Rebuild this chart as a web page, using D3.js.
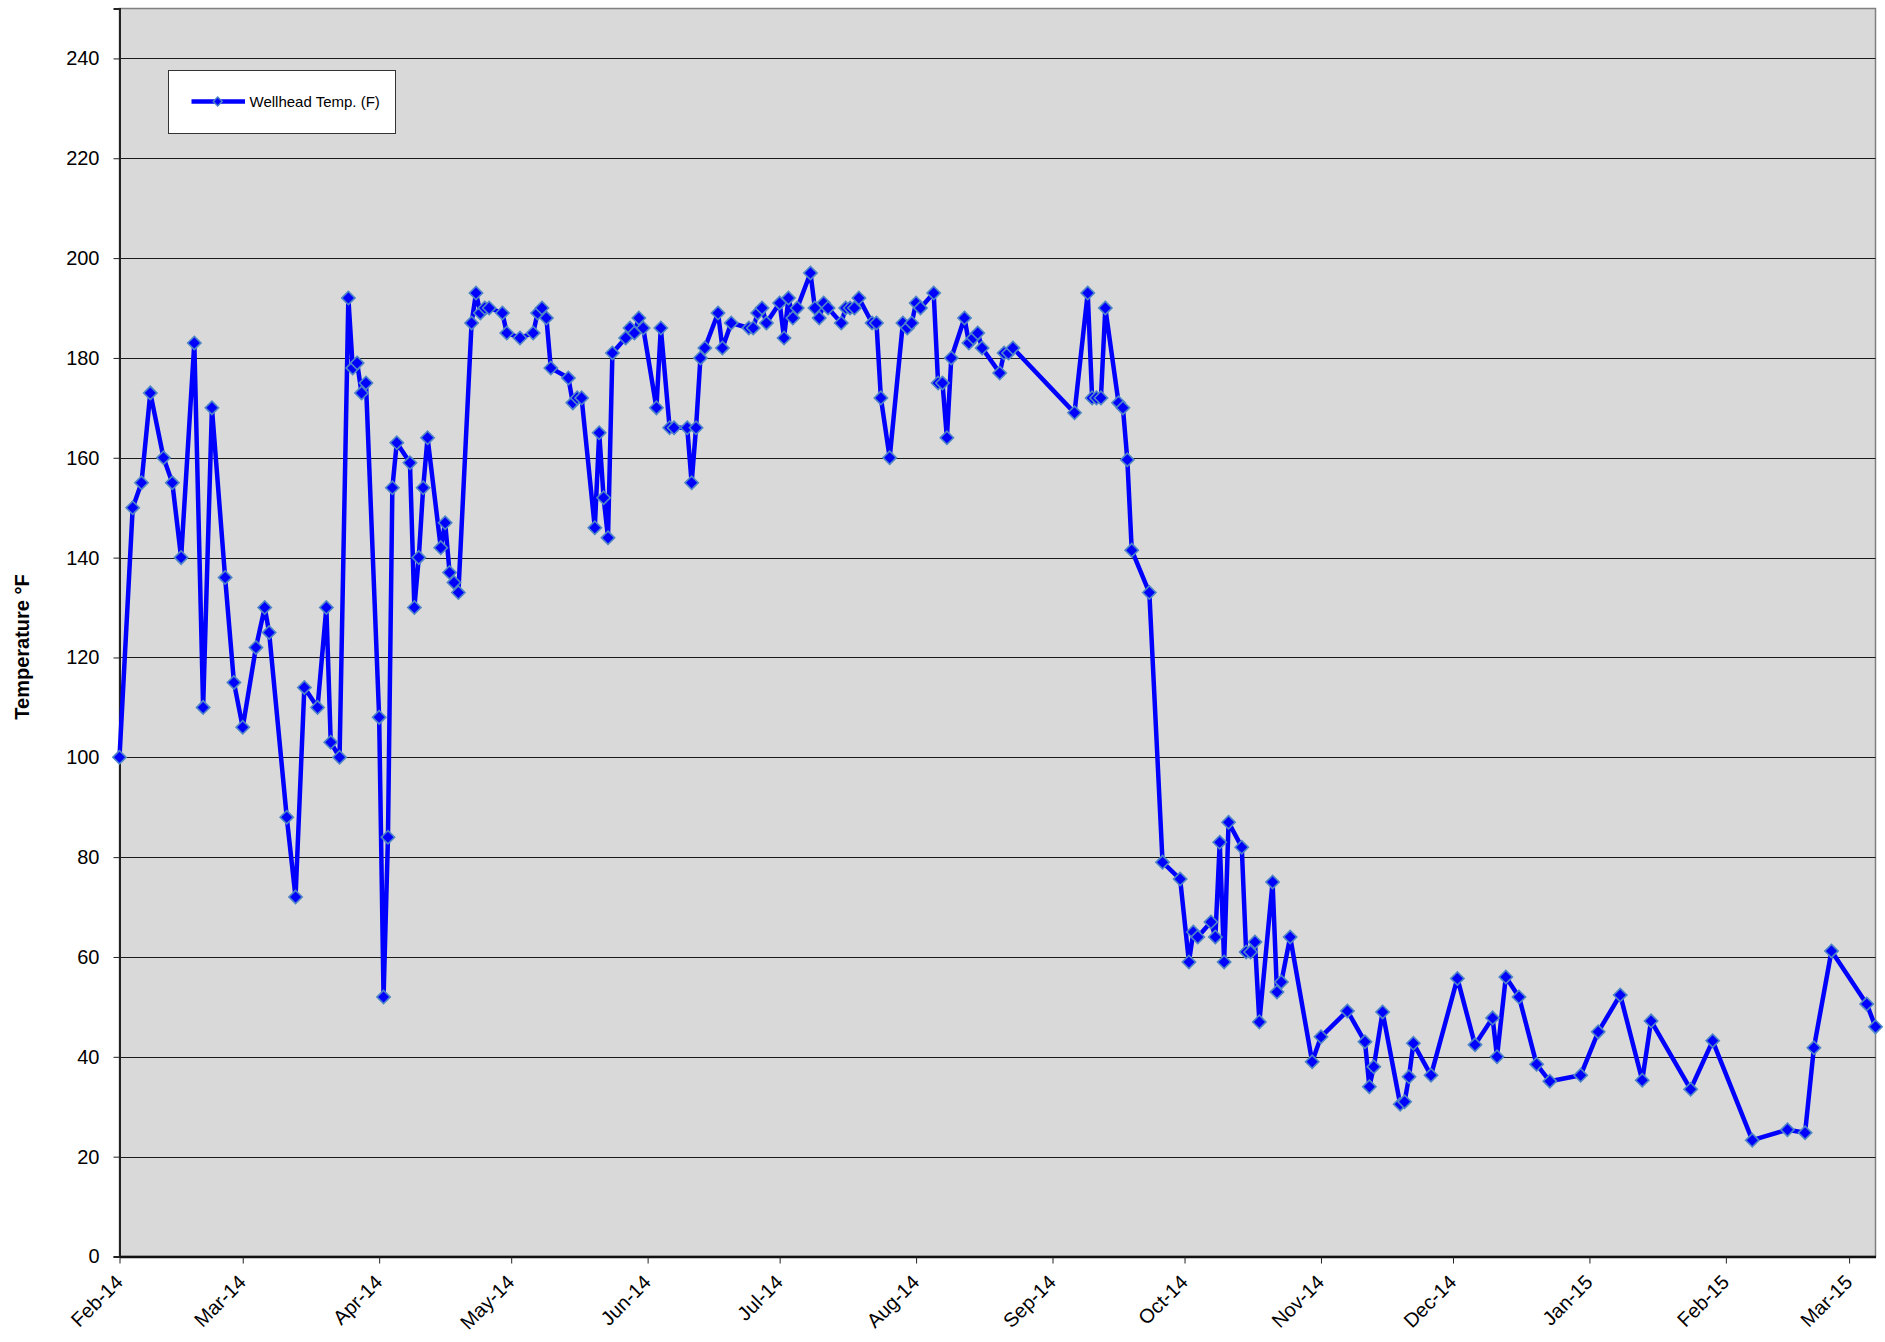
<!DOCTYPE html>
<html><head><meta charset="utf-8">
<script src="https://cdn.jsdelivr.net/npm/d3@7"></script>
<style>html,body{margin:0;padding:0;background:#fff;} svg{display:block;font-family:"Liberation Sans",Arial,sans-serif;}</style>
</head><body><svg id="chart" width="1885" height="1342"></svg>
<script>
const dates = [
"2014-02-01","2014-02-04","2014-02-06","2014-02-08","2014-02-11","2014-02-13","2014-02-15","2014-02-18","2014-02-20","2014-02-22","2014-02-25","2014-02-27",
"2014-03-01","2014-03-04","2014-03-06","2014-03-07","2014-03-11","2014-03-13","2014-03-15","2014-03-18","2014-03-20","2014-03-21","2014-03-23","2014-03-25","2014-03-26","2014-03-27","2014-03-28","2014-03-29",
"2014-04-01","2014-04-02","2014-04-03","2014-04-04","2014-04-05","2014-04-08","2014-04-09","2014-04-10","2014-04-11","2014-04-12","2014-04-15","2014-04-16","2014-04-17","2014-04-18","2014-04-19","2014-04-22","2014-04-23","2014-04-24","2014-04-25","2014-04-26","2014-04-29","2014-04-30",
"2014-05-03","2014-05-06","2014-05-07","2014-05-08","2014-05-09","2014-05-10","2014-05-14","2014-05-15","2014-05-16","2014-05-17","2014-05-20","2014-05-21","2014-05-22","2014-05-23","2014-05-24","2014-05-27","2014-05-28","2014-05-29","2014-05-30","2014-05-31",
"2014-06-03","2014-06-04","2014-06-06","2014-06-07","2014-06-10","2014-06-11","2014-06-12","2014-06-13","2014-06-14","2014-06-17","2014-06-18","2014-06-20","2014-06-24","2014-06-25","2014-06-26","2014-06-27","2014-06-28",
"2014-07-01","2014-07-02","2014-07-03","2014-07-04","2014-07-05","2014-07-08","2014-07-09","2014-07-10","2014-07-11","2014-07-12","2014-07-15","2014-07-16","2014-07-17","2014-07-18","2014-07-19","2014-07-22","2014-07-23","2014-07-24","2014-07-26","2014-07-29","2014-07-30","2014-07-31",
"2014-08-01","2014-08-02","2014-08-05","2014-08-06","2014-08-07","2014-08-08","2014-08-09","2014-08-12","2014-08-13","2014-08-14","2014-08-15","2014-08-16","2014-08-20","2014-08-21","2014-08-22","2014-08-23",
"2014-09-06","2014-09-09","2014-09-10","2014-09-11","2014-09-12","2014-09-13","2014-09-16","2014-09-17","2014-09-18","2014-09-19","2014-09-23","2014-09-26","2014-09-30",
"2014-10-02","2014-10-03","2014-10-04","2014-10-07","2014-10-08","2014-10-09","2014-10-10","2014-10-11","2014-10-14","2014-10-15","2014-10-16","2014-10-17","2014-10-18","2014-10-21","2014-10-22","2014-10-23","2014-10-25","2014-10-30",
"2014-11-01","2014-11-07","2014-11-11","2014-11-12","2014-11-13","2014-11-15","2014-11-19","2014-11-20","2014-11-21","2014-11-22","2014-11-26",
"2014-12-02","2014-12-06","2014-12-10","2014-12-11","2014-12-13","2014-12-16","2014-12-20","2014-12-23","2014-12-30",
"2015-01-03","2015-01-08","2015-01-13","2015-01-15","2015-01-24","2015-01-29",
"2015-02-07","2015-02-15","2015-02-19","2015-02-21","2015-02-25",
"2015-03-05","2015-03-07"
];
const temps = [
100,150,155,173,160,155,140,183,110,170,136,115,
106,122,130,125,88,72,114,110,130,103,100,192,178,179,173,175,
108,52,84,154,163,159,130,140,154,164,142,147,137,135,133,187,193,189,190,190,189,185,
184,185,189,190,188,178,176,171,172,172,146,165,152,144,181,184,186,185,188,186,
170,186,166,166,166,155,166,180,182,189,182,187,186,186,189,190,187,
191,184,192,188,190,197,190,188,191,190,187,190,190,190,192,187,187,172,160,187,186,187,
191,190,193,175,175,164,180,188,183,184,185,182,177,181,181,182,
169,193,172,172,172,190,171,170,159.6,141.5,133,79,75.6,
59,65,64,67,64,83,59,87,82,61,61,63,47,75,53,55,64,39,
44,49.2,43,34,38,49,30.5,31,36,42.7,36.3,
55.7,42.4,47.8,40,56,52,38.5,35.1,36.3,
45,52.4,35.3,47.2,33.5,43.2,
23.3,25.4,24.8,41.8,61.2,
50.6,46
];
const yTicks = [0,20,40,60,80,100,120,140,160,180,200,220,240];
const monthTicks = ["2014-02-01","2014-03-01","2014-04-01","2014-05-01","2014-06-01","2014-07-01","2014-08-01","2014-09-01","2014-10-01","2014-11-01","2014-12-01","2015-01-01","2015-02-01","2015-03-01"];
const seriesName = "Wellhead Temp. (F)";
const yTitle = "Temperature °F";

const parse = d3.timeParse("%Y-%m-%d");
const data = dates.map((d,i)=>({date:parse(d), v:temps[i]}));
const svg = d3.select("#chart");
const L=119.5, R=1875.5, T=8.5, B=1256.5;
const x = d3.scaleTime().domain(d3.extent(data,d=>d.date)).range([L,R]);
const y = d3.scaleLinear().domain([0,250]).range([B,T]);

svg.append("rect").attr("x",L).attr("y",T).attr("width",R-L).attr("height",B-T)
  .attr("fill","#d9d9d9").attr("stroke","#808080").attr("stroke-width",1.5);

svg.append("g").selectAll("line").data(yTicks.filter(t=>t>0)).join("line")
  .attr("x1",L).attr("x2",R).attr("y1",d=>Math.round(y(d))+0.5).attr("y2",d=>Math.round(y(d))+0.5)
  .attr("stroke","#1a1a1a").attr("stroke-width",1);

// y axis
const yAxis = d3.axisLeft(y).tickValues(yTicks).tickSize(6).tickPadding(14);
const gy = svg.append("g").attr("transform",`translate(${L},0)`).call(yAxis);
gy.select(".domain").attr("stroke","#222").attr("stroke-width",2);
gy.selectAll(".tick line").attr("stroke","#222");
gy.selectAll("text").attr("font-size",20).attr("fill","#000").attr("font-family","Liberation Sans, Arial, sans-serif");

// x axis
const xAxis = d3.axisBottom(x).tickValues(monthTicks.map(parse)).tickFormat(d3.timeFormat("%b-%y")).tickSize(7).tickSizeOuter(0);
const gx = svg.append("g").attr("transform",`translate(0,${B})`).call(xAxis);
gx.select(".domain").attr("stroke","#111").attr("stroke-width",2.5);
gx.selectAll(".tick line").attr("stroke","#222");
gx.selectAll("text").attr("font-size",20).attr("fill","#000").attr("font-family","Liberation Sans, Arial, sans-serif")
  .attr("text-anchor","end").attr("dy",null).attr("y",0)
  .attr("transform","translate(4,27) rotate(-45)");

// y title
svg.append("text").attr("transform","translate(22,647) rotate(-90)")
  .attr("text-anchor","middle").attr("dominant-baseline","central")
  .attr("font-size",20).attr("font-weight","bold").text(yTitle);

// series
const line = d3.line().x(d=>x(d.date)).y(d=>y(d.v));
svg.append("path").datum(data).attr("d",line).attr("fill","none")
  .attr("stroke","#0000ff").attr("stroke-width",4.5).attr("stroke-linejoin","round");
const sym = d3.symbol().type(d3.symbolSquare).size(88);
svg.append("g").selectAll("path").data(data).join("path")
  .attr("d",sym).attr("transform",d=>`translate(${x(d.date)},${y(d.v)}) rotate(45)`)
  .attr("fill","#0000ff").attr("stroke","#4f86c6").attr("stroke-width",1.6);

// legend
const lg = svg.append("g");
lg.append("rect").attr("x",168.5).attr("y",70.5).attr("width",227).attr("height",63)
  .attr("fill","#fff").attr("stroke","#333").attr("stroke-width",1);
lg.append("line").attr("x1",191.5).attr("x2",245).attr("y1",101.5).attr("y2",101.5)
  .attr("stroke","#0000ff").attr("stroke-width",4.5);
lg.append("path").attr("d",d3.symbol().type(d3.symbolSquare).size(40)).attr("transform","translate(217.7,101.5) rotate(45)")
  .attr("fill","#0000ff").attr("stroke","#4f86c6").attr("stroke-width",1.4);
lg.append("text").attr("x",249.5).attr("y",101.5).attr("dominant-baseline","central")
  .attr("font-size",15).text(seriesName);
</script></body></html>
